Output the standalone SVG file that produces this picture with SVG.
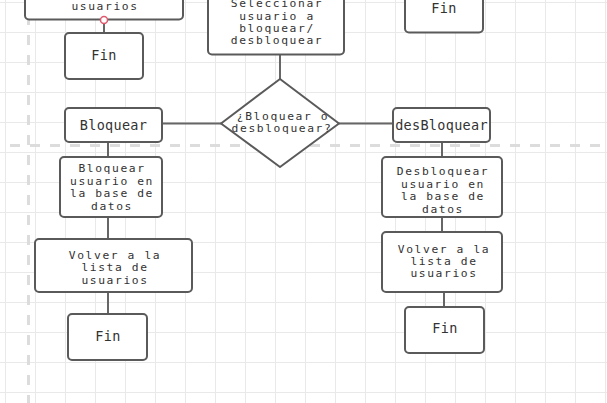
<svg xmlns="http://www.w3.org/2000/svg" width="607" height="403" viewBox="0 0 607 403">
<defs>
<style>
.grid line{stroke:#e9e9e9;stroke-width:1}
.sep{stroke:#dcdcdc;stroke-width:3;stroke-dasharray:10 10;fill:none}
.box{fill:#fff;stroke:#5a5a5a;stroke-width:2}
.con line{stroke:#666;stroke-width:2}
.t{font-family:"DejaVu Sans Mono","Liberation Mono",monospace;fill:#333;text-anchor:middle}
.s{font-size:13.5px;letter-spacing:0.3px}
.m{font-size:11.3px;letter-spacing:1.6px}
</style>
</defs>
<rect width="607" height="403" fill="#fff"/>
<g class="grid">
<line x1="5.5" y1="0" x2="5.5" y2="403"/><line x1="35.5" y1="0" x2="35.5" y2="403"/><line x1="65.5" y1="0" x2="65.5" y2="403"/><line x1="95.5" y1="0" x2="95.5" y2="403"/><line x1="125.5" y1="0" x2="125.5" y2="403"/><line x1="155.5" y1="0" x2="155.5" y2="403"/><line x1="185.5" y1="0" x2="185.5" y2="403"/><line x1="215.5" y1="0" x2="215.5" y2="403"/><line x1="245.5" y1="0" x2="245.5" y2="403"/><line x1="275.5" y1="0" x2="275.5" y2="403"/><line x1="305.5" y1="0" x2="305.5" y2="403"/><line x1="335.5" y1="0" x2="335.5" y2="403"/><line x1="365.5" y1="0" x2="365.5" y2="403"/><line x1="395.5" y1="0" x2="395.5" y2="403"/><line x1="425.5" y1="0" x2="425.5" y2="403"/><line x1="455.5" y1="0" x2="455.5" y2="403"/><line x1="485.5" y1="0" x2="485.5" y2="403"/><line x1="515.5" y1="0" x2="515.5" y2="403"/><line x1="545.5" y1="0" x2="545.5" y2="403"/><line x1="575.5" y1="0" x2="575.5" y2="403"/><line x1="605.5" y1="0" x2="605.5" y2="403"/>
<line x1="0" y1="2.5" x2="607" y2="2.5"/><line x1="0" y1="32.5" x2="607" y2="32.5"/><line x1="0" y1="62.5" x2="607" y2="62.5"/><line x1="0" y1="92.5" x2="607" y2="92.5"/><line x1="0" y1="122.5" x2="607" y2="122.5"/><line x1="0" y1="152.5" x2="607" y2="152.5"/><line x1="0" y1="182.5" x2="607" y2="182.5"/><line x1="0" y1="212.5" x2="607" y2="212.5"/><line x1="0" y1="242.5" x2="607" y2="242.5"/><line x1="0" y1="272.5" x2="607" y2="272.5"/><line x1="0" y1="302.5" x2="607" y2="302.5"/><line x1="0" y1="332.5" x2="607" y2="332.5"/><line x1="0" y1="362.5" x2="607" y2="362.5"/><line x1="0" y1="392.5" x2="607" y2="392.5"/>
</g>
<line class="sep" x1="28.5" y1="-5" x2="28.5" y2="403"/>
<line class="sep" x1="10" y1="145.5" x2="607" y2="145.5"/>
<g class="con">
<line x1="104" y1="20" x2="104" y2="33"/>
<line x1="162" y1="123.5" x2="222" y2="123.5"/>
<line x1="280" y1="55" x2="280" y2="79"/>
<line x1="339" y1="123.5" x2="393" y2="123.5"/>
<line x1="442" y1="142" x2="442" y2="157"/>
<line x1="442" y1="217" x2="442" y2="232"/>
<line x1="444" y1="292" x2="444" y2="307"/>
<line x1="108" y1="142" x2="108" y2="157"/>
<line x1="108" y1="217" x2="108" y2="239"/>
<line x1="108" y1="292" x2="108" y2="314"/>
</g>
<g id="volver-top">
<rect class="box" x="25" y="-30" width="158" height="49.5" rx="4"/>
<text class="t m" x="105" y="10">usuarios</text>
</g>
<circle cx="104" cy="20" r="3.5" fill="#fff" stroke="#e05a6e" stroke-width="1.5"/>
<g id="fin-1">
<rect class="box" x="65" y="33" width="78" height="46" rx="4"/>
<text class="t s" x="104" y="59.5">Fin</text>
</g>
<g id="seleccionar">
<rect class="box" x="208" y="-20" width="136" height="74.5" rx="4"/>
<text class="t m" x="277" y="7">Seleccionar</text>
<text class="t m" x="277" y="19.5">usuario a</text>
<text class="t m" x="277" y="31.5">bloquear/</text>
<text class="t m" x="277" y="44">desbloquear</text>
</g>
<g id="fin-top-right">
<rect class="box" x="405" y="-15" width="78" height="47.5" rx="4"/>
<text class="t s" x="444" y="13">Fin</text>
</g>
<g id="decision">
<polygon class="box" points="280,79 339,123.5 280,167 221,123.5" stroke-linejoin="round"/>
<text class="t m" x="283" y="120">¿Bloquear o</text>
<text class="t m" x="282" y="132">desbloquear?</text>
</g>
<g id="bloquear">
<rect class="box" x="65" y="108" width="97" height="34" rx="4"/>
<text class="t s" x="113.5" y="129.5">Bloquear</text>
</g>
<g id="desbloquear">
<rect class="box" x="393" y="108" width="97" height="34" rx="4"/>
<text class="t s" x="441.5" y="129.5">desBloquear</text>
</g>
<g id="bloquear-db">
<rect class="box" x="60" y="157" width="102" height="60" rx="4"/>
<text class="t m" x="112" y="172">Bloquear</text>
<text class="t m" x="112" y="184.5">usuario en</text>
<text class="t m" x="112" y="197">la base de</text>
<text class="t m" x="112" y="209.5">datos</text>
</g>
<g id="desbloquear-db">
<rect class="box" x="382" y="157" width="120" height="60" rx="4"/>
<text class="t m" x="443" y="175">Desbloquear</text>
<text class="t m" x="443" y="187.5">usuario en</text>
<text class="t m" x="443" y="200">la base de</text>
<text class="t m" x="443" y="212.5">datos</text>
</g>
<g id="volver-left">
<rect class="box" x="35" y="239" width="157" height="53" rx="4"/>
<text class="t m" x="115" y="258.5">Volver a la</text>
<text class="t m" x="115" y="271">lista de</text>
<text class="t m" x="115" y="283.5">usuarios</text>
</g>
<g id="volver-right">
<rect class="box" x="382" y="232" width="120" height="60" rx="4"/>
<text class="t m" x="444" y="252.5">Volver a la</text>
<text class="t m" x="444" y="265">lista de</text>
<text class="t m" x="444" y="277">usuarios</text>
</g>
<g id="fin-left">
<rect class="box" x="68" y="314" width="79" height="46" rx="4"/>
<text class="t s" x="108" y="340.5">Fin</text>
</g>
<g id="fin-right">
<rect class="box" x="405" y="307" width="79" height="46" rx="4"/>
<text class="t s" x="445" y="333">Fin</text>
</g>
</svg>
